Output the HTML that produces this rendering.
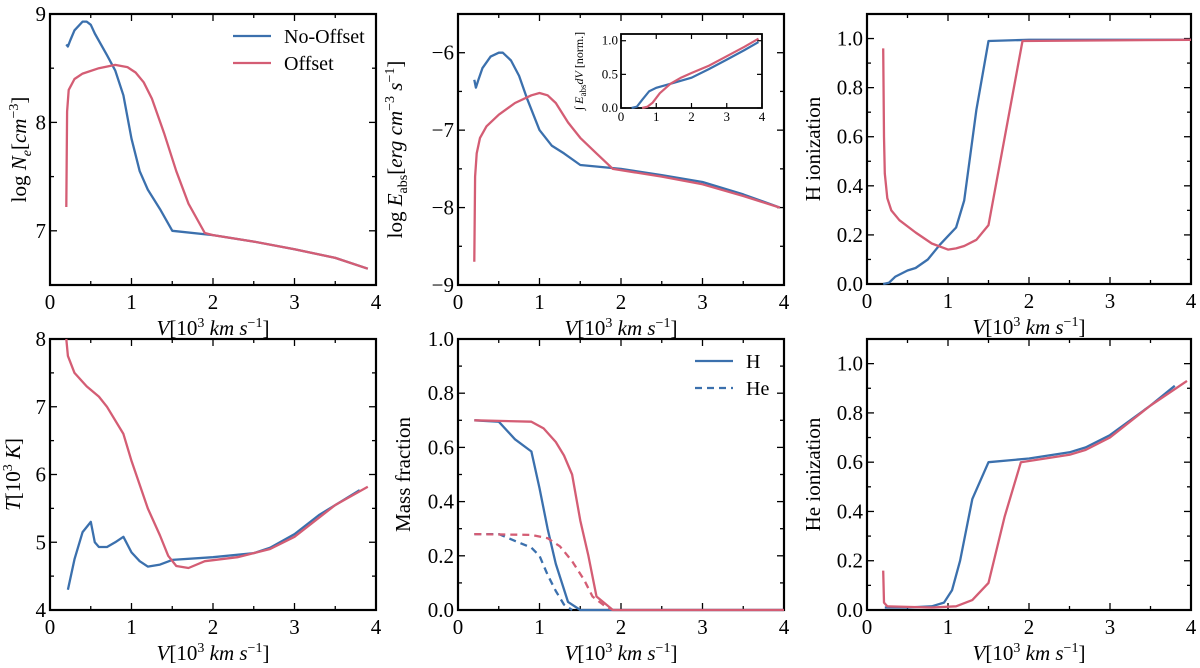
<!DOCTYPE html>
<html><head><meta charset="utf-8"><style>
body{margin:0;background:#fff}
svg{display:block;font-family:"Liberation Serif",serif}
</style></head><body>
<svg id="fig" width="1200" height="668" viewBox="0 0 1200 668"></svg>
<script>
// ---- data ----
const neBlueV=[0.2,0.22,0.25,0.3,0.4,0.45,0.5,0.55,0.7,0.8,0.9,1.0,1.1,1.2,1.35,1.5,2,2.5,3,3.5,3.9];
const neBlueY=[8.72,8.7,8.76,8.85,8.93,8.93,8.9,8.82,8.62,8.48,8.25,7.85,7.55,7.38,7.2,7.0,6.96,6.9,6.83,6.75,6.65];
const neRedV=[0.2,0.21,0.23,0.3,0.4,0.6,0.8,0.95,1.05,1.15,1.25,1.4,1.55,1.7,1.9,2,2.5,3,3.5,3.9];
const neRedY=[7.22,8.1,8.3,8.4,8.45,8.5,8.53,8.51,8.46,8.37,8.22,7.9,7.55,7.25,6.98,6.96,6.9,6.83,6.75,6.65];
const eBlueV=[0.2,0.22,0.25,0.3,0.4,0.5,0.55,0.65,0.75,0.85,1.0,1.15,1.3,1.5,2,2.5,3,3.5,3.95];
const eBlueY=[-6.35,-6.45,-6.35,-6.2,-6.05,-6.0,-6.0,-6.1,-6.3,-6.6,-7.0,-7.2,-7.3,-7.45,-7.5,-7.58,-7.67,-7.83,-8.0];
const eRedV=[0.2,0.21,0.23,0.27,0.35,0.5,0.7,0.9,1.0,1.1,1.2,1.35,1.5,1.7,1.9,2.5,3,3.5,3.95];
const eRedY=[-8.7,-7.6,-7.3,-7.1,-6.95,-6.8,-6.65,-6.55,-6.52,-6.55,-6.65,-6.9,-7.1,-7.3,-7.5,-7.6,-7.7,-7.85,-8.0];
const inBlueV=[0.3,0.45,0.6,0.8,1.0,1.4,2,2.5,3,3.5,3.9];
const inBlueY=[0,0.02,0.12,0.25,0.3,0.36,0.45,0.58,0.72,0.86,0.98];
const inRedV=[0.6,0.75,0.9,1.1,1.4,1.7,2,2.5,3,3.5,3.9];
const inRedY=[0,0.02,0.08,0.22,0.36,0.45,0.52,0.63,0.77,0.91,1.03];
const hBlueV=[0.2,0.27,0.35,0.5,0.6,0.75,0.9,1.0,1.1,1.2,1.35,1.5,2,4];
const hBlueY=[0,0.005,0.03,0.055,0.065,0.1,0.16,0.195,0.23,0.34,0.71,0.99,0.995,0.995];
const hRedV=[0.2,0.21,0.22,0.25,0.3,0.4,0.6,0.8,1.0,1.1,1.2,1.35,1.5,1.92,4];
const hRedY=[0.96,0.6,0.45,0.35,0.3,0.26,0.21,0.165,0.14,0.145,0.155,0.18,0.24,0.99,0.995];
const tBlueV=[0.22,0.3,0.4,0.5,0.55,0.6,0.7,0.8,0.9,1.0,1.1,1.2,1.35,1.5,2,2.5,2.7,3,3.3,3.8];
const tBlueY=[4.3,4.75,5.15,5.3,5.0,4.93,4.93,5.0,5.08,4.85,4.72,4.64,4.67,4.74,4.78,4.84,4.92,5.12,5.4,5.77];
const tRedV=[0.2,0.22,0.3,0.45,0.6,0.7,0.9,1.0,1.2,1.35,1.45,1.55,1.7,1.9,2.3,2.7,3,3.5,3.9];
const tRedY=[8.0,7.75,7.5,7.3,7.15,7.0,6.6,6.2,5.5,5.1,4.8,4.65,4.62,4.72,4.78,4.9,5.08,5.55,5.82];
const mhBlueV=[0.2,0.5,0.7,0.9,1.0,1.1,1.2,1.35,1.5,4];
const mhBlueY=[0.7,0.695,0.63,0.585,0.45,0.3,0.17,0.03,0,0];
const mhRedV=[0.2,0.9,1.05,1.2,1.3,1.4,1.5,1.6,1.7,1.9,4];
const mhRedY=[0.7,0.695,0.67,0.62,0.57,0.5,0.33,0.2,0.05,0,0];
const mheBlueV=[0.2,0.5,0.7,0.9,1.0,1.1,1.2,1.3,1.4];
const mheBlueY=[0.28,0.28,0.255,0.23,0.2,0.13,0.07,0.02,0];
const mheRedV=[0.2,0.9,1.1,1.25,1.4,1.55,1.65,1.8,1.9];
const mheRedY=[0.28,0.277,0.265,0.235,0.18,0.11,0.05,0.015,0];
const heBlueV=[0.22,0.5,0.8,0.95,1.05,1.15,1.3,1.5,2,2.5,2.7,3,3.5,3.8];
const heBlueY=[0.01,0.01,0.015,0.03,0.08,0.2,0.45,0.6,0.615,0.64,0.66,0.71,0.83,0.91];
const heRedV=[0.2,0.21,0.25,0.8,1.1,1.3,1.5,1.7,1.9,2.5,2.7,3,3.5,3.95];
const heRedY=[0.16,0.03,0.015,0.01,0.015,0.04,0.11,0.38,0.6,0.63,0.65,0.7,0.83,0.93];
const xTicks=[0,1,2,3,4];

const BLUE="#3b70ad", RED="#d45d74";
const NS="http://www.w3.org/2000/svg";
const svg=document.getElementById('fig');
function mk(tag,attrs,parent){const e=document.createElementNS(NS,tag);for(const k in attrs)e.setAttribute(k,attrs[k]);(parent||svg).appendChild(e);return e;}

function panel(name,x0,x1,y0,y1,ymin,ymax,yMajor,yMinor,yFmt,xlabel,ylabelHTML,ylabX){
  const g=mk('g',{});
  
  
  const sx=v=>x0+(v)/4*(x1-x0), sy=v=>y1-(v-ymin)/(ymax-ymin)*(y1-y0);
  const ticks=(vals,len,isX)=>vals.forEach(v=>{
    if(isX){const x=sx(v);mk('line',{x1:x,x2:x,y1:y1,y2:y1-len,stroke:'#000','stroke-width':1.3},g);mk('line',{x1:x,x2:x,y1:y0,y2:y0+len,stroke:'#000','stroke-width':1.3},g);}
    else{const y=sy(v);mk('line',{x1:x0,x2:x0+len,y1:y,y2:y,stroke:'#000','stroke-width':1.3},g);mk('line',{x1:x1,x2:x1-len,y1:y,y2:y,stroke:'#000','stroke-width':1.3},g);}
  });
  ticks(xTicks,7,true);ticks([0.5,1.5,2.5,3.5],4,true);
  ticks(yMajor,7,false);ticks(yMinor,4,false);
  xTicks.forEach(v=>{const t=mk('text',{x:sx(v),y:y1+24,'text-anchor':'middle','font-size':21},g);t.textContent=v;
    
    });
  yMajor.forEach(v=>{const t=mk('text',{x:x0-4,y:sy(v)+7,'text-anchor':'end','font-size':21},g);t.textContent=yFmt(v);
    
    });
  if(xlabel){const t=mk('text',{x:(x0+x1)/2,y:y1+50,'text-anchor':'middle','font-size':21},g);
    t.innerHTML='<tspan font-style="italic">V</tspan>[10<tspan font-size="14" dy="-8">3</tspan><tspan dy="8" font-style="italic"> km s</tspan><tspan font-size="14" dy="-8">−1</tspan><tspan dy="8">]</tspan>';
    
    }
  const yl=mk('text',{transform:`translate(${ylabX},${(y0+y1)/2}) rotate(-90)`,'text-anchor':'middle','font-size':21},g);
  yl.innerHTML=ylabelHTML;
  
  
  mk('rect',{x:x0,y:y0,width:x1-x0,height:y1-y0,fill:'none',stroke:'#000','stroke-width':2.2},g);
  const line=(vs,ys,col,nm,dash)=>{const p=mk('path',{d:vs.map((v,i)=>(i?'L':'M')+sx(v).toFixed(1)+','+sy(ys[i]).toFixed(1)).join(''),fill:'none',stroke:col,'stroke-width':2.3,'stroke-linejoin':'round','stroke-dasharray':dash||'none'},g);
    
    };
  return {g,sx,sy,line};
}
const f1=v=>v.toFixed(1), f0=v=>v<0?'−'+(-v):String(v);

let p=panel('panel-electron-density',50,376,14,285,6.5,9,[7,8,9],[6.5,7.5,8.5],f0,true,
 'log <tspan font-style="italic">N<tspan font-size="14" dy="5">e</tspan></tspan><tspan dy="-5">[</tspan><tspan font-style="italic">cm</tspan><tspan font-size="14" dy="-8">−3</tspan><tspan dy="8">]</tspan>',26);
p.line(neBlueV,neBlueY,BLUE,'no-offset-line');p.line(neRedV,neRedY,RED,'offset-line');
[[36,BLUE,'No-Offset'],[63,RED,'Offset']].forEach(([y,c,l])=>{
  const lg=mk('g',{});
  
  
  mk('line',{x1:233,x2:271,y1:y,y2:y,stroke:c,'stroke-width':2.3},lg);
  const t=mk('text',{x:284,y:y+7,'font-size':20},lg);t.textContent=l;});

p=panel('panel-absorbed-energy',458,784,14,285,-9,-5.5,[-9,-8,-7,-6],[-8.5,-7.5,-6.5,-5.5],f0,true,
 'log <tspan font-style="italic">E</tspan><tspan font-size="14" dy="5">abs</tspan><tspan dy="-5">[</tspan><tspan font-style="italic">erg cm</tspan><tspan font-size="14" dy="-8">−3</tspan><tspan dy="8" font-style="italic"> s</tspan><tspan font-size="14" dy="-8">−1</tspan><tspan dy="8">]</tspan>',402);
p.line(eBlueV,eBlueY,BLUE,'no-offset-line');p.line(eRedV,eRedY,RED,'offset-line');
(function(){
  const x0=621,x1=762,y0=34,y1=108,ymin=0,ymax=1.1;
  const g=mk('g',{});
  
  
  const sx=v=>x0+v/4*(x1-x0), sy=v=>y1-(v-ymin)/(ymax-ymin)*(y1-y0);
  mk('rect',{x:x0,y:y0,width:x1-x0,height:y1-y0,fill:'#fff',stroke:'#000','stroke-width':1.8},g);
  xTicks.forEach(v=>{mk('line',{x1:sx(v),x2:sx(v),y1:y1,y2:y1-5,stroke:'#000','stroke-width':1.2},g);mk('line',{x1:sx(v),x2:sx(v),y1:y0,y2:y0+5,stroke:'#000','stroke-width':1.2},g);
    const t=mk('text',{x:sx(v),y:y1+13,'text-anchor':'middle','font-size':13},g);t.textContent=v;});
  [0,0.5,1.0].forEach(v=>{mk('line',{x1:x0,x2:x0+5,y1:sy(v),y2:sy(v),stroke:'#000','stroke-width':1.2},g);mk('line',{x1:x1,x2:x1-5,y1:sy(v),y2:sy(v),stroke:'#000','stroke-width':1.2},g);
    const t=mk('text',{x:x0-3,y:sy(v)+4,'text-anchor':'end','font-size':13},g);t.textContent=v.toFixed(1);});
  const yl=mk('text',{transform:`translate(583,71) rotate(-90)`,'text-anchor':'middle','font-size':12},g);
  yl.innerHTML='∫ <tspan font-style="italic">E</tspan><tspan font-size="9" dy="3">abs</tspan><tspan dy="-3" font-style="italic">dV</tspan> [norm.]';
  [[inBlueV,inBlueY,BLUE],[inRedV,inRedY,RED]].forEach(([vs,ys,c])=>{
    const pth=mk('path',{d:vs.map((v,i)=>(i?'L':'M')+sx(v).toFixed(1)+','+sy(ys[i]).toFixed(1)).join(''),fill:'none',stroke:c,'stroke-width':2.2},g);
    
    });
})();

p=panel('panel-h-ionization',867,1191,14,284,0,1.1,[0,0.2,0.4,0.6,0.8,1.0],[0.1,0.3,0.5,0.7,0.9,1.1],f1,true,'H ionization',820);
p.line(hBlueV,hBlueY,BLUE,'no-offset-line');p.line(hRedV,hRedY,RED,'offset-line');

p=panel('panel-temperature',50,376,339,610,4,8,[4,5,6,7,8],[4.5,5.5,6.5,7.5],f0,true,
 '<tspan font-style="italic">T</tspan>[10<tspan font-size="14" dy="-8">3</tspan><tspan dy="8" font-style="italic"> K</tspan>]',20);
p.line(tBlueV,tBlueY,BLUE,'no-offset-line');p.line(tRedV,tRedY,RED,'offset-line');

p=panel('panel-mass-fraction',458,784,339,610,0,1,[0,0.2,0.4,0.6,0.8,1.0],[0.1,0.3,0.5,0.7,0.9],f1,true,'Mass fraction',410);
p.line(mhBlueV,mhBlueY,BLUE,'h-no-offset');p.line(mhRedV,mhRedY,RED,'h-offset');
p.line(mheBlueV,mheBlueY,BLUE,'he-no-offset','7,5');p.line(mheRedV,mheRedY,RED,'he-offset','7,5');
[[361,'none','H'],[388,'7,5','He']].forEach(([y,d,l])=>{
  const lg=mk('g',{});
  
  
  mk('line',{x1:695,x2:733,y1:y,y2:y,stroke:BLUE,'stroke-width':2.3,'stroke-dasharray':d},lg);
  const t=mk('text',{x:746,y:y+7,'font-size':20},lg);t.textContent=l;});

p=panel('panel-he-ionization',867,1191,339,610,0,1.1,[0,0.2,0.4,0.6,0.8,1.0],[0.1,0.3,0.5,0.7,0.9,1.1],f1,true,'He ionization',820);
p.line(heBlueV,heBlueY,BLUE,'no-offset-line');p.line(heRedV,heRedY,RED,'offset-line');
</script>
</body></html>
